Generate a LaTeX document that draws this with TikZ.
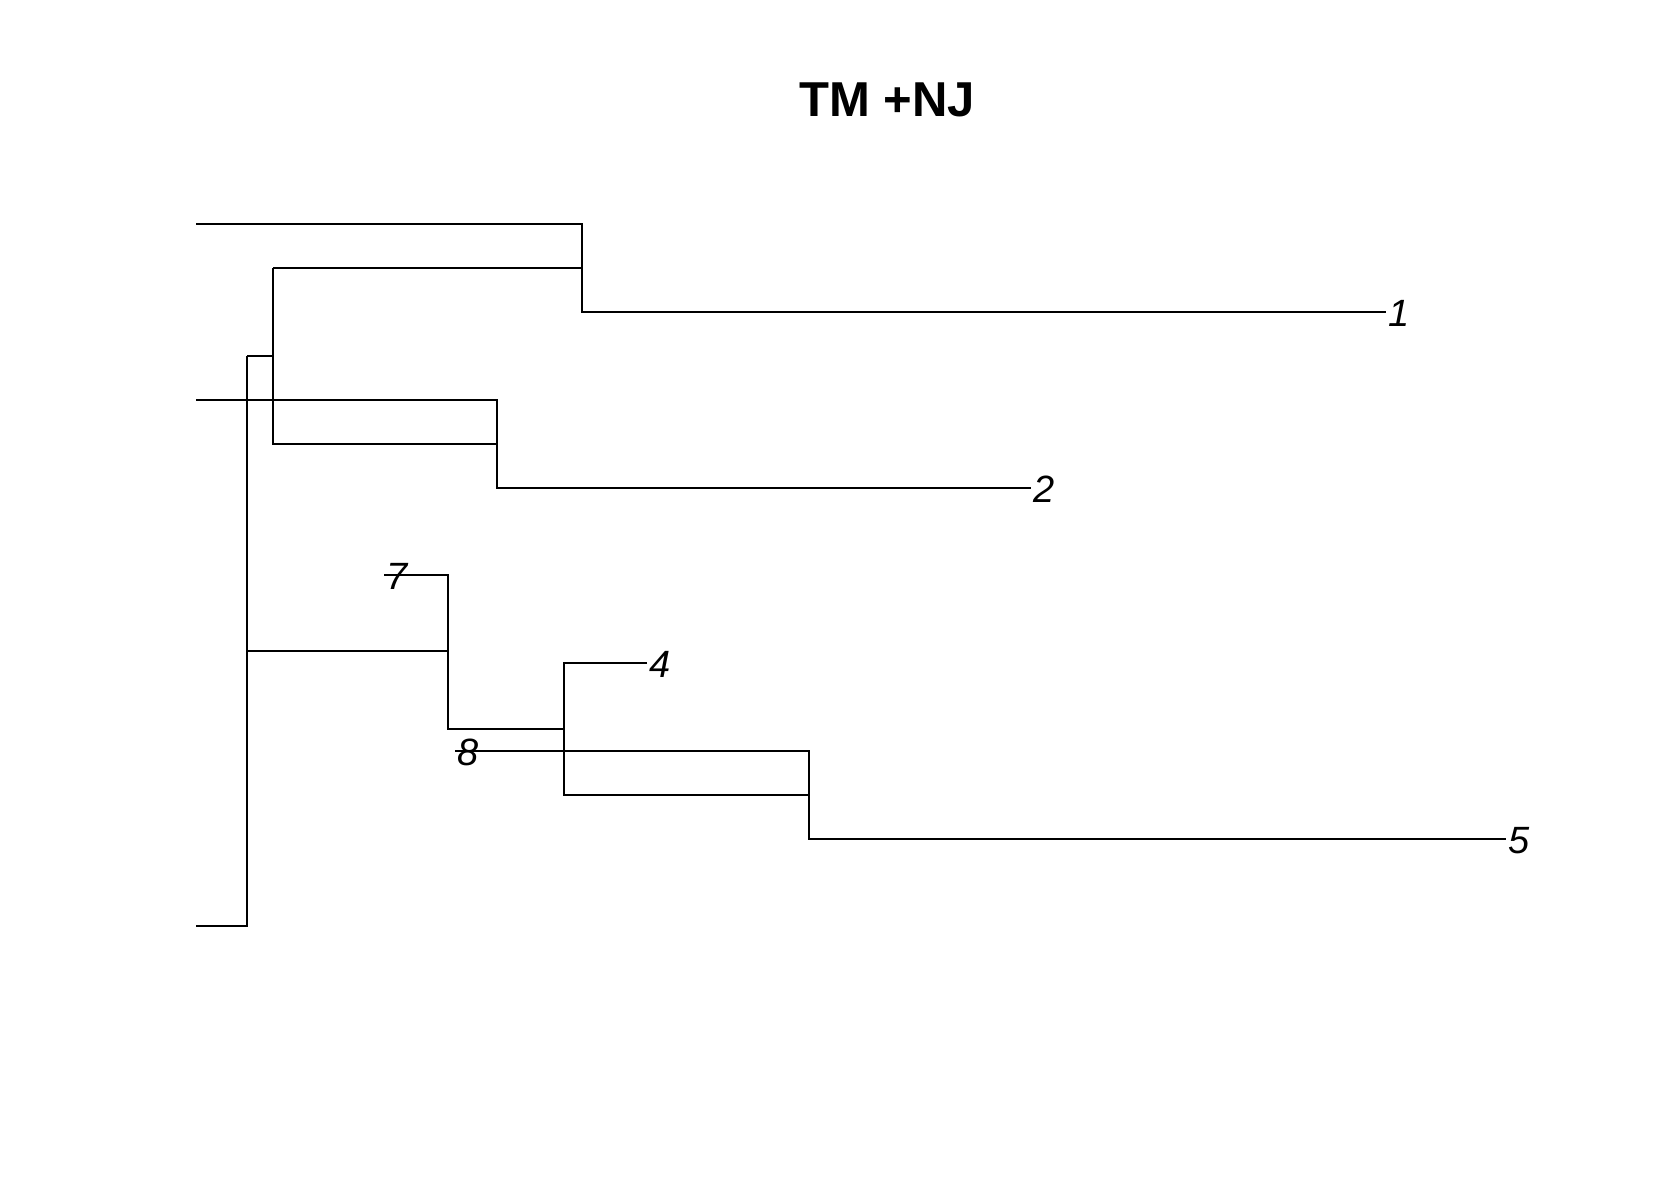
\documentclass[tikz,border=0pt]{standalone}
\usepackage{fontspec}
\setsansfont{Liberation Sans}
\tikzset{every picture/.style={line width=1.1pt}}
\tikzset{
  tiplabel/.style={anchor=west,inner sep=0.5pt,yshift=-0.8pt,font=\sffamily\itshape\fontsize{19}{19}\selectfont},
  branch/.style={line cap=rect}
}

\begin{document}
\begin{tikzpicture}[x=0.5pt,y=0.5pt,yscale=-1,xscale=1]
\useasboundingbox (0,0) rectangle (1680,1200);

% Title
\node (title) at (887,100) {\sffamily\bfseries\fontsize{24.5}{24.5}\selectfont TM +NJ};

%Corners of the tree
\coordinate (a1) at (196,224);
\coordinate (c1) at (582,224);
\coordinate (c2) at (582,268);
\coordinate (c3) at (582,312);
\coordinate (t1) at (1386,312);
\coordinate (b1) at (273,268);
\coordinate (b2) at (273,356);
\coordinate (b3) at (273,444);
\coordinate (r1) at (247,356);
\coordinate (r2) at (247,651);
\coordinate (r3) at (247,926);
\coordinate (a3) at (196,926);
\coordinate (a2) at (196,400);
\coordinate (d1) at (497,400);
\coordinate (d2) at (497,444);
\coordinate (d3) at (497,488);
\coordinate (t2) at (1031,488);
\coordinate (t7) at (384,575);
\coordinate (e1) at (448,575);
\coordinate (e2) at (448,651);
\coordinate (e3) at (448,729);
\coordinate (f1) at (564,663);
\coordinate (f2) at (564,729);
\coordinate (f3) at (564,795);
\coordinate (t4) at (647,663);
\coordinate (t8) at (455,751);
\coordinate (g1) at (809,751);
\coordinate (g2) at (809,795);
\coordinate (g3) at (809,839);
\coordinate (t5) at (1506,839);

%Branches
\draw (a1) -- (c1) -- (c3) -- (t1) ;
\draw (b1) -- (c2) ;
\draw (b1) -- (b3) -- (d2) ;
\draw (r1) -- (b2) ;
\draw (a2) -- (d1) -- (d3) -- (t2) ;
\draw (r1) -- (r3) -- (a3) ;
\draw (r2) -- (e2) ;
\draw (t7) -- (e1) -- (e3) -- (f2) ;
\draw (t4) -- (f1) -- (f3) -- (g2) ;
\draw (t8) -- (g1) -- (g3) -- (t5) ;

% Tip labels
\node [tiplabel] (l1) at (t1) {1};
\node [tiplabel] (l2) at (t2) {2};
\node [tiplabel] (l7) at (t7) {7};
\node [tiplabel] (l4) at (t4) {4};
\node [tiplabel] (l8) at (t8) {8};
\node [tiplabel] (l5) at (t5) {5};

\end{tikzpicture}
\end{document}
